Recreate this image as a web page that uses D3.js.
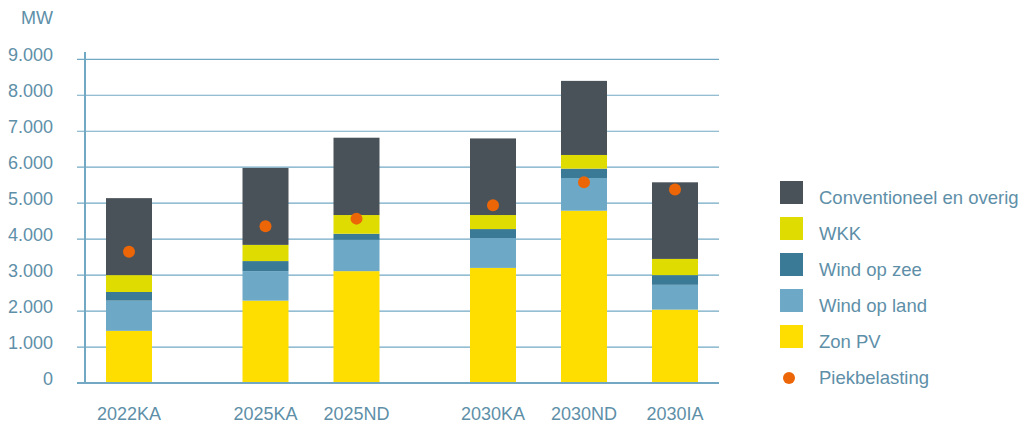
<!DOCTYPE html>
<html><head><meta charset="utf-8">
<script src="https://cdn.jsdelivr.net/npm/d3@7"></script>
<style>body{margin:0;background:#fff;}svg{display:block;font-family:"Liberation Sans",Arial,sans-serif;}</style>
</head><body>
<svg id="c" width="1024" height="427"></svg>
<script>
const categories = ["2022KA","2025KA","2025ND","2030KA","2030ND","2030IA"];
const groups = ["2022","2025","2025","2030","2030","2030"];
const zonPV = [1450, 2290, 3110, 3200, 4790, 2040];
const windLand = [840, 820, 870, 830, 910, 690];
const windZee = [240, 280, 170, 250, 260, 270];
const wkk = [470, 450, 520, 390, 380, 450];
const conventioneel = [2140, 2140, 2150, 2130, 2060, 2130];
const piek = [3650, 4360, 4570, 4940, 5580, 5380];
const yTicks = [0,1000,2000,3000,4000,5000,6000,7000,8000,9000];
const seriesNames = ["Zon PV","Wind op land","Wind op zee","WKK","Conventioneel en overig"];
const seriesColors = ["#fedd00","#6da9c7","#3a7a96","#dedc00","#4a5259"];
const legendOrder = ["Conventioneel en overig","WKK","Wind op zee","Wind op land","Zon PV"];

const svg = d3.select("#c");
const textColor = "#5e8fa8";
const gridColor = "#72a8c4";

const y = d3.scaleLinear().domain([0,9000]).range([383,59.3]);
const groupKeys = Array.from(new Set(groups));
const slot = categories.map((c,i)=> i + 0.5*groupKeys.indexOf(groups[i]));
const x = d3.scaleLinear().domain([0,6]).range([129,675]);
const barW = 46;

// grid
svg.append("g").selectAll("line").data(yTicks.filter(d=>d>0)).join("line")
  .attr("x1",77).attr("x2",719).attr("y1",d=>y(d)).attr("y2",d=>y(d))
  .attr("stroke",gridColor).attr("stroke-width",1.2);
// tick labels
svg.append("g").selectAll("text").data(yTicks).join("text")
  .attr("x",53).attr("y",d=>y(d)+1.5).attr("text-anchor","end")
  .attr("fill",textColor).attr("font-size",18)
  .text(d=>d3.format(",")(d).replace(/,/g,"."));
svg.append("text").attr("x",53).attr("y",24).attr("text-anchor","end")
  .attr("fill",textColor).attr("font-size",18).text("MW");

// stacks
const rows = categories.map((c,i)=>({cat:c, vals:[zonPV[i],windLand[i],windZee[i],wkk[i],conventioneel[i]], slot:slot[i]}));
const stackData = rows.map(r=>{const o={slot:r.slot}; seriesNames.forEach((s,j)=>o[s]=r.vals[j]); return o;});
const stacked = d3.stack().keys(seriesNames)(stackData);
svg.append("g").selectAll("g").data(stacked).join("g")
  .attr("fill",(d,i)=>seriesColors[i])
  .selectAll("rect").data(d=>d).join("rect")
  .attr("x",d=>x(d.data.slot)-barW/2).attr("width",barW)
  .attr("y",d=>y(d[1])).attr("height",d=>y(d[0])-y(d[1]));

// axes lines
svg.append("line").attr("x1",85).attr("x2",85).attr("y1",52).attr("y2",383)
  .attr("stroke",gridColor).attr("stroke-width",2);
svg.append("line").attr("x1",77).attr("x2",719).attr("y1",y(0)).attr("y2",y(0))
  .attr("stroke",gridColor).attr("stroke-width",2.2);

// piek
svg.append("g").selectAll("circle").data(piek).join("circle")
  .attr("cx",(d,i)=>x(slot[i])).attr("cy",d=>y(d)).attr("r",6)
  .attr("fill","#ec6608");

// category labels
svg.append("g").selectAll("text").data(categories).join("text")
  .attr("x",(d,i)=>x(slot[i])).attr("y",420).attr("text-anchor","middle")
  .attr("fill",textColor).attr("font-size",18).text(d=>d);

// legend
const lg = svg.append("g");
legendOrder.forEach((name,i)=>{
  const col = seriesColors[seriesNames.indexOf(name)];
  const yy = 181 + i*36;
  lg.append("rect").attr("x",780).attr("y",yy).attr("width",23).attr("height",23).attr("fill",col);
  lg.append("text").attr("x",819).attr("y",yy+23).attr("fill",textColor).attr("font-size",18.5).text(name);
});
lg.append("circle").attr("cx",789).attr("cy",378).attr("r",6).attr("fill","#ec6608");
lg.append("text").attr("x",819).attr("y",181+5*36+23).attr("fill",textColor).attr("font-size",18.5).text("Piekbelasting");
</script>
</body></html>
